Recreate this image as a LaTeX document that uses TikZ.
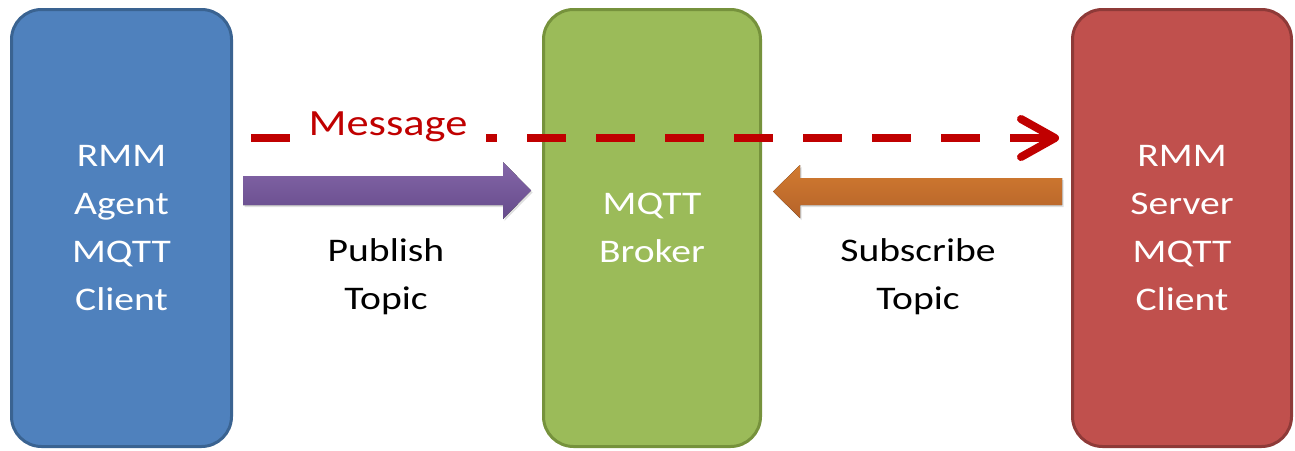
\documentclass[tikz,border=0pt]{standalone}
\usepackage{fontspec}
\setmainfont[FakeStretch=1.2]{Carlito}
\usetikzlibrary{shadows}
\definecolor{bluefill}{HTML}{4F81BD}
\definecolor{blueline}{HTML}{3A6391}
\definecolor{greenfill}{HTML}{9BBB59}
\definecolor{greenline}{HTML}{76923C}
\definecolor{redfill}{HTML}{C0504D}
\definecolor{redline}{HTML}{8E3A38}
\definecolor{msgred}{HTML}{C00000}
\definecolor{purpT}{HTML}{8466A8}
\definecolor{purpB}{HTML}{664B8B}
\definecolor{orT}{HTML}{D27B30}
\definecolor{orB}{HTML}{B5632A}
\begin{document}
\begin{tikzpicture}[x=1pt,y=-1pt,
  box/.style={rounded corners=30pt, line width=3pt, minimum height=437pt,
    align=center, text=white, font=\fontsize{33}{48}\selectfont, inner sep=0pt},
  lbl/.style={align=center, font=\fontsize{33}{48}\selectfont, inner sep=0pt, text=black},
  msglbl/.style={font=\fontsize{37}{44}\selectfont, text=msgred, fill=white, inner xsep=0pt, inner ysep=3pt, minimum width=196pt},
  msgline/.style={draw=msgred, line width=8pt, dash pattern=on 39pt off 30pt},
  msgtip/.style={draw=msgred, line width=8pt, line cap=round, line join=round},
  bigarrow/.style={drop shadow={opacity=0.25, shadow xshift=1.5pt, shadow yshift=-2pt}}
]
\useasboundingbox (0,0) rectangle (1295,450);

\node[box, fill=bluefill, draw=blueline, minimum width=220pt] (agent) at (121.5,228) {RMM\\Agent\\MQTT\\Client};
\node[box, fill=greenfill, draw=greenline, minimum width=217pt] (broker) at (652,228) {MQTT\\Broker};
\node[box, fill=redfill, draw=redline, minimum width=219pt] (server) at (1182,228) {RMM\\Server\\MQTT\\Client};

% message dashed connector
\coordinate (ms) at (251,138);
\coordinate (me) at (1049,138);
\coordinate (mt) at (1055,138);
\draw[msgline] (ms) -- (me);
\draw[msgtip] (mt) ++(-34,-19) -- (mt) -- ++(-34,19);
\node[msglbl, anchor=base] (msg) at (388,135) {Message};

% publish arrow
\coordinate (pa) at (243,190.5);
\coordinate (pb) at (531,190.5);
\fill[bigarrow, top color=purpT, bottom color=purpB]
  (pa) ++(0,-14.5) -- ++(260,0) -- ++(0,-14) -- (pb) -- ++(-28,28.5) -- ++(0,-14) -- ++(-260,0) -- cycle;

% subscribe arrow
\coordinate (sa) at (1062,191.5);
\coordinate (sb) at (773,191.5);
\fill[bigarrow, top color=orT, bottom color=orB]
  (sa) ++(0,-13.5) -- ++(-262,0) -- ++(0,-13) -- (sb) -- ++(27,26.5) -- ++(0,-13) -- ++(262,0) -- cycle;

\node[lbl] (pub) at (386,277) {Publish\\Topic};
\node[lbl] (sub) at (918,277) {Subscribe\\Topic};
\end{tikzpicture}
\end{document}
